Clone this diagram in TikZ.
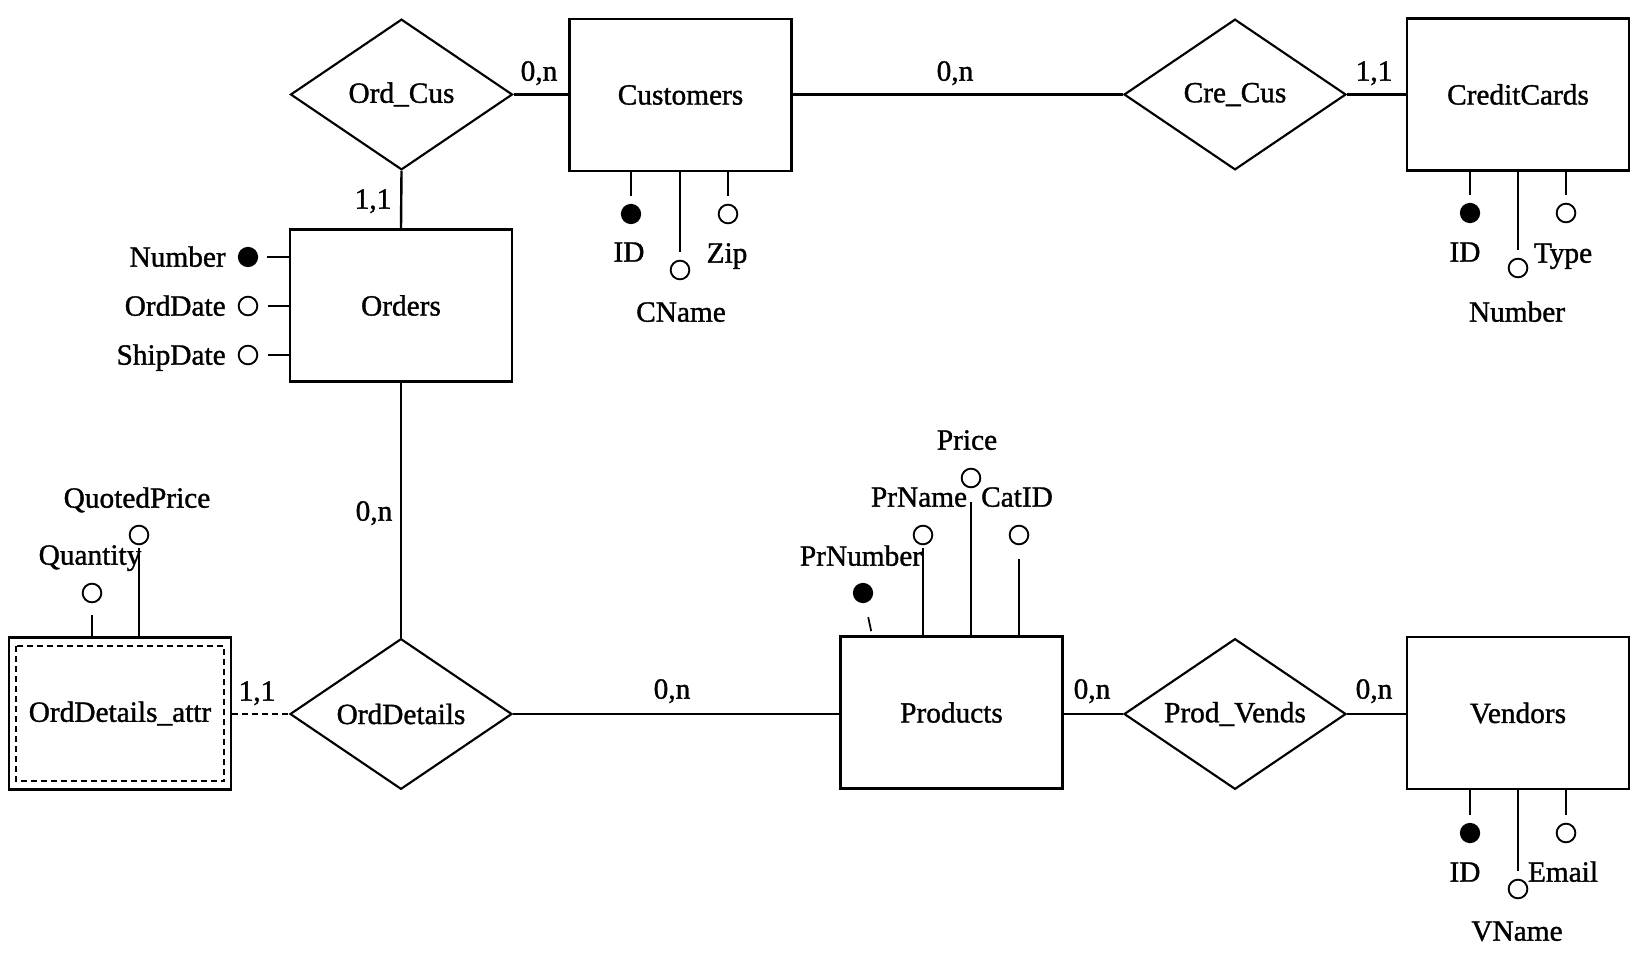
\documentclass[tikz,border=0pt]{standalone}
\usepackage{fontspec}
\setmainfont{Liberation Serif}[FakeBold=1.2]
\usetikzlibrary{shapes.geometric,calc}
\newcommand\zerow[1]{\makebox[0pt]{#1}}
\begin{document}
\begin{tikzpicture}[x=0.75pt,y=-0.75pt,
  every node/.style={font=\fontsize{22}{26}\selectfont},
  entity/.style={draw,line width=2.2pt,rectangle,minimum width=166.5pt,minimum height=114pt,inner sep=0pt},
  rel/.style={draw,line width=1.6pt,diamond,minimum width=166.5pt,minimum height=113pt,inner sep=0pt},
  conn/.style={line width=1.8pt},
  keyattr/.style={circle,fill=black,draw,line width=1.2pt,minimum size=14pt,inner sep=0pt},
  attr/.style={circle,draw,line width=1.4pt,minimum size=14pt,inner sep=0pt},
  attrline/.style={line width=1.3pt},
  lab/.style={inner sep=0pt,text height=14.5pt,text depth=0pt},
  dashpat/.style={dash pattern=on 4.5pt off 3pt}
]
\fill[white] (0,0) rectangle (1641,959);
\useasboundingbox (0,0) rectangle (1641,959);

% entities
\node[entity] (cust) at (680.5,95) {Customers};
\node[entity] (cc) at (1518,94.5) {CreditCards};
\node[entity] (ord) at (401,305.5) {Orders};
\node[entity] (oda) at (120,713.5) {OrdDetails\_attr};
\node[entity] (prod) at (951.5,712.5) {Products};
\node[entity] (vend) at (1518,713) {Vendors};
\draw[line width=1.5pt,dashpat] ($(oda.north west)+(8,10)$) rectangle ($(oda.south east)+(-8,-10)$);

% relationships
\node[rel] (oc) at (401.5,94.5) {\zerow{Ord\_Cus}};
\node[rel] (crc) at (1235,94.5) {\zerow{Cre\_Cus}};
\node[rel] (od) at (401,714) {\zerow{OrdDetails}};
\node[rel] (pv) at (1235,714) {\zerow{Prod\_Vends}};

% connectors
\draw[conn] (oc.east) -- (oc.east -| cust.west);
\draw[conn] (oc.south) -- (ord.north);
\draw[conn] (cust.east |- crc.west) -- (crc.west);
\draw[conn] (crc.east) -- (crc.east -| cc.west);
\draw[conn] (ord.south) -- (od.north);
\draw[conn,dashpat] (od.west -| oda.east) -- (od.west);
\draw[conn] (od.east) -- (od.east -| prod.west);
\draw[conn] (prod.east |- pv.west) -- (pv.west);
\draw[conn] (pv.east) -- (pv.east -| vend.west);

% cardinalities
\node[lab] (k1) at (539,71) {0,n};
\node[lab] (k2) at (373,199) {1,1};
\node[lab] (k3) at (955,71) {0,n};
\node[lab] (k4) at (1374,71) {1,1};
\node[lab] (k5) at (374,511) {0,n};
\node[lab] (k6) at (257,691) {1,1};
\node[lab] (k7) at (672,689) {0,n};
\node[lab] (k8) at (1092,689) {0,n};
\node[lab] (k9) at (1374,689) {0,n};

% Customers attributes
\node[keyattr] (cid) at (631,214) {};
\node[attr] (cname) at (680,270) {};
\node[attr] (czip) at (728,214) {};
\draw[attrline,shorten >=6pt] (cust.south -| cid) -- (cid);
\draw[attrline,shorten >=6pt] (cust.south -| cname) -- (cname);
\draw[attrline,shorten >=6pt] (cust.south -| czip) -- (czip);
\node[lab] (lcid) at (629,252) {ID};
\node[lab] (lcname) at (681,312) {CName};
\node[lab] (lczip) at (727,253) {Zip};

% CreditCards attributes
\node[keyattr] (ccid) at (1470,213) {};
\node[attr] (ccnum) at (1518,268) {};
\node[attr] (cctype) at (1566,213) {};
\draw[attrline,shorten >=6pt] (cc.south -| ccid) -- (ccid);
\draw[attrline,shorten >=6pt] (cc.south -| ccnum) -- (ccnum);
\draw[attrline,shorten >=6pt] (cc.south -| cctype) -- (cctype);
\node[lab] (lccid) at (1465,252) {ID};
\node[lab] (lccnum) at (1517,312) {Number};
\node[lab] (lcctype) at (1563,253) {Type};

% Orders attributes
\node[keyattr] (onum) at (248,257) {};
\node[attr] (odate) at (248,306) {};
\node[attr] (oship) at (248,355) {};
\draw[attrline,shorten >=7pt] (ord.west |- onum) -- (onum);
\draw[attrline,shorten >=7pt] (ord.west |- odate) -- (odate);
\draw[attrline,shorten >=7pt] (ord.west |- oship) -- (oship);
\node[lab,anchor=east] (lonum) at (226,257) {Number};
\node[lab,anchor=east] (lodate) at (226,306) {OrdDate};
\node[lab,anchor=east] (loship) at (226,355) {ShipDate};

% OrdDetails_attr attributes
\node[attr] (qty) at (92,593) {};
\node[attr] (qp) at (139,535) {};
\draw[attrline,shorten >=9pt] (oda.north -| qty) -- (qty);
\draw[attrline,shorten >=2pt] (oda.north -| qp) -- (qp);
\node[lab] (lqp) at (137,498) {QuotedPrice};
\node[lab] (lqty) at (90,555) {Quantity};

% Products attributes
\node[keyattr] (pnum) at (863,593) {};
\node[attr] (pname) at (923,535) {};
\node[attr] (pprice) at (971,478) {};
\node[attr] (pcat) at (1019,535) {};
\draw[attrline,shorten >=2pt] (prod.north -| pname) -- (pname);
\draw[attrline,shorten >=10pt] (prod.north -| pprice) -- (pprice);
\draw[attrline,shorten >=10pt] (prod.north -| pcat) -- (pcat);
\draw[attrline,shorten <=3pt,shorten >=11pt] ($(prod.north west)+(33,0)$) -- (pnum);
\node[lab] (lpprice) at (967,440) {Price};
\node[lab] (lpname) at (919,497) {PrName};
\node[lab] (lpcat) at (1017,497) {CatID};
\node[lab] (lpnum) at (861,556) {PrNumber};

% Vendors attributes
\node[keyattr] (vid) at (1470,833) {};
\node[attr] (vname) at (1518,889) {};
\node[attr] (vemail) at (1566,833) {};
\draw[attrline,shorten >=6pt] (vend.south -| vid) -- (vid);
\draw[attrline,shorten >=6pt] (vend.south -| vname) -- (vname);
\draw[attrline,shorten >=6pt] (vend.south -| vemail) -- (vemail);
\node[lab] (lvid) at (1465,872) {ID};
\node[lab] (lvname) at (1517,931) {VName};
\node[lab] (lvemail) at (1563,872) {Email};
\end{tikzpicture}
\end{document}
